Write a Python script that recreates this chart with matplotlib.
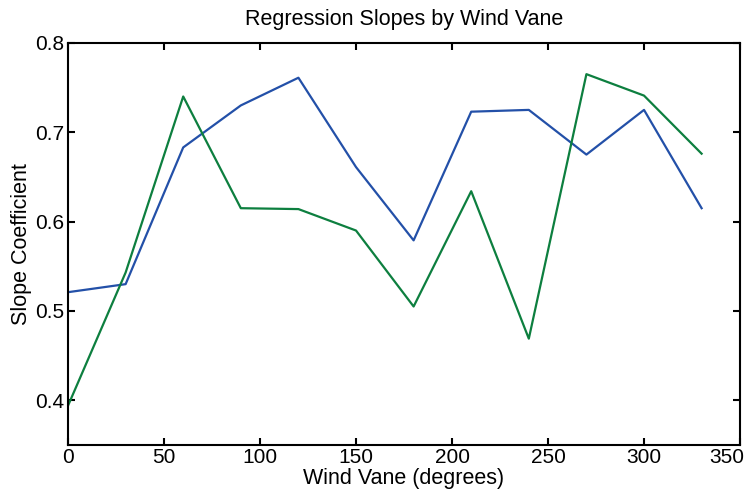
import matplotlib.pyplot as plt
import matplotlib.transforms as mtransforms
import numpy as np

plt.rcParams['font.family'] = ['Liberation Sans', 'DejaVu Sans']

wind_vane = [0, 30, 60, 90, 120, 150, 180, 210, 240, 270, 300, 330]
slope_blue = [0.521, 0.530, 0.683, 0.730, 0.761, 0.661, 0.579, 0.723, 0.725, 0.675, 0.725, 0.615]
slope_green = [0.394, 0.543, 0.740, 0.615, 0.614, 0.590, 0.505, 0.634, 0.469, 0.765, 0.741, 0.676]

x_ticks = [0, 50, 100, 150, 200, 250, 300, 350]
y_ticks = [0.4, 0.5, 0.6, 0.7, 0.8]

fig = plt.figure(figsize=(7.45, 4.94), dpi=100)
ax = fig.add_axes([0.0913, 0.0992, 0.902, 0.814])

ax.plot(wind_vane, slope_blue, color='#2350a8', linewidth=1.6)
ax.plot(wind_vane, slope_green, color='#0d7f3f', linewidth=1.6)

ax.set_xlim(0, 350)
ax.set_ylim(0.35, 0.8)
ax.set_xticks(x_ticks)
ax.set_yticks(y_ticks)
ax.set_xticklabels([str(t) for t in x_ticks])
ax.set_yticklabels(['%.1f' % t for t in y_ticks])
ax.tick_params(direction='in', top=True, right=True, length=5, width=1.5,
               labelsize=15)
ax.tick_params(axis='x', pad=2)
ax.tick_params(axis='y', pad=3)
for s in ax.spines.values():
    s.set_linewidth(1.5)

# last x label sits at the figure edge, keep it inside
last = ax.get_xticklabels()[-1]
last.set_horizontalalignment('right')
last.set_transform(last.get_transform() +
                   mtransforms.ScaledTranslation(4 / 100, 0, fig.dpi_scale_trans))

ax.set_title('Regression Slopes by Wind Vane', fontsize=15.5, pad=13)
ax.set_xlabel('Wind Vane (degrees)', fontsize=15.5, labelpad=1)
ax.set_ylabel('Slope Coefficient', fontsize=15.5, labelpad=2)

fig.savefig('out.png', dpi=100)
